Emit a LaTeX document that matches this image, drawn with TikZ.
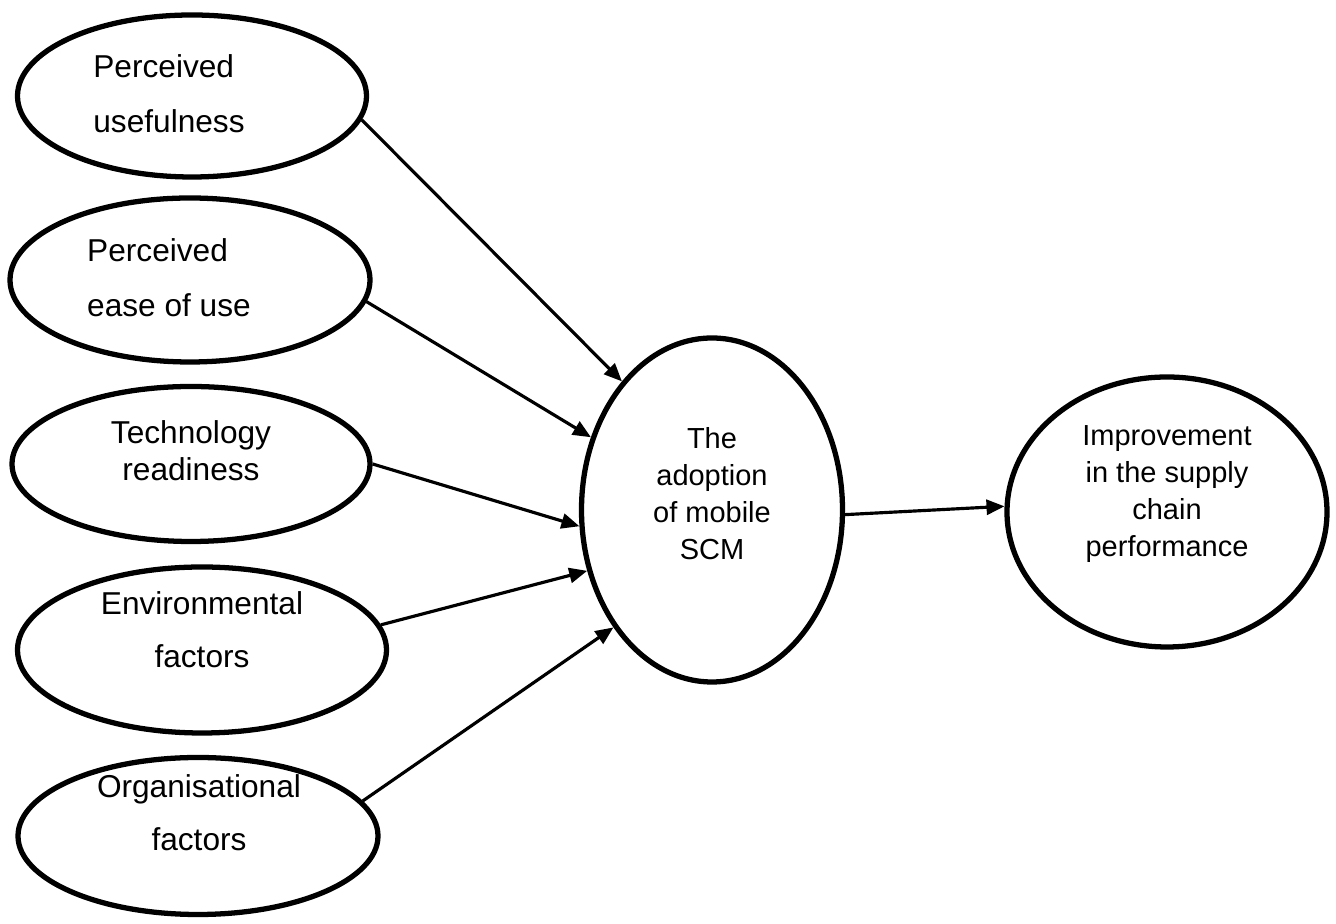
\documentclass[tikz,border=0pt]{standalone}
\usepackage{fontspec}
\setmainfont{Liberation Sans}
\usepackage{tikz}
\usetikzlibrary{arrows.meta,shapes.geometric}
\tikzstyle{factor}=[ellipse,draw=black,line width=3pt,inner sep=0pt]
\tikzstyle{lbl}=[inner sep=0pt,font=\fontsize{18}{31.3}\selectfont]
\tikzstyle{lblsmall}=[inner sep=0pt,align=center,font=\fontsize{16.5}{21}\selectfont]
\tikzstyle{link}=[line width=1.8pt,-{Triangle[length=3.6mm,width=3mm]}]

\begin{document}
\begin{tikzpicture}
        \useasboundingbox (0,0) rectangle (26.72,18.48);

        % ellipses
        \node at (3.84,16.56)  [factor,minimum width=6.98cm,minimum height=3.24cm] (pu)    {};
        \node at (3.80,12.88)  [factor,minimum width=7.20cm,minimum height=3.28cm] (peou)  {};
        \node at (3.82,9.20)   [factor,minimum width=7.16cm,minimum height=3.10cm] (tr)    {};
        \node at (4.04,5.48)   [factor,minimum width=7.38cm,minimum height=3.32cm] (ef)    {};
        \node at (3.96,1.76)   [factor,minimum width=7.20cm,minimum height=3.14cm] (of)    {};
        \node at (14.24,8.28)  [factor,minimum width=5.22cm,minimum height=6.88cm] (adopt) {};
        \node at (23.34,8.24)  [factor,minimum width=6.40cm,minimum height=5.40cm] (impr)  {};

        % texts
        \node at (3.38,16.60) [lbl,align=left]   (pu-t)    {Perceived\\usefulness};
        \node at (3.38,12.92) [lbl,align=left]   (peou-t)  {Perceived\\ease of use};
        \node at (3.82,9.46)  [lbl,align=center,font=\fontsize{18}{21}\selectfont] (tr-t) {Technology\\readiness};
        \node at (4.04,5.88)  [lbl,align=center,font=\fontsize{18}{30.2}\selectfont] (ef-t) {Environmental\\factors};
        \node at (3.98,2.22)  [lbl,align=center,font=\fontsize{18}{30.2}\selectfont] (of-t) {Organisational\\factors};
        \node at (14.24,8.60) [lblsmall] (adopt-t) {The\\adoption\\of mobile\\SCM};
        \node at (23.34,8.60) [lblsmall] (impr-t)  {Improvement\\in the supply\\chain\\performance};

        \draw [link] (pu.-8)   -- (adopt.125);
        \draw [link] (peou.-7) -- (adopt.149);
        \draw [link] (tr.0)    -- (adopt.187);
        \draw [link] (ef.8)    -- (adopt.206);
        \draw [link] (of.12)   -- (adopt.230);
        \draw [link] (adopt.-2) -- (impr.178);
      \end{tikzpicture}
\end{document}
